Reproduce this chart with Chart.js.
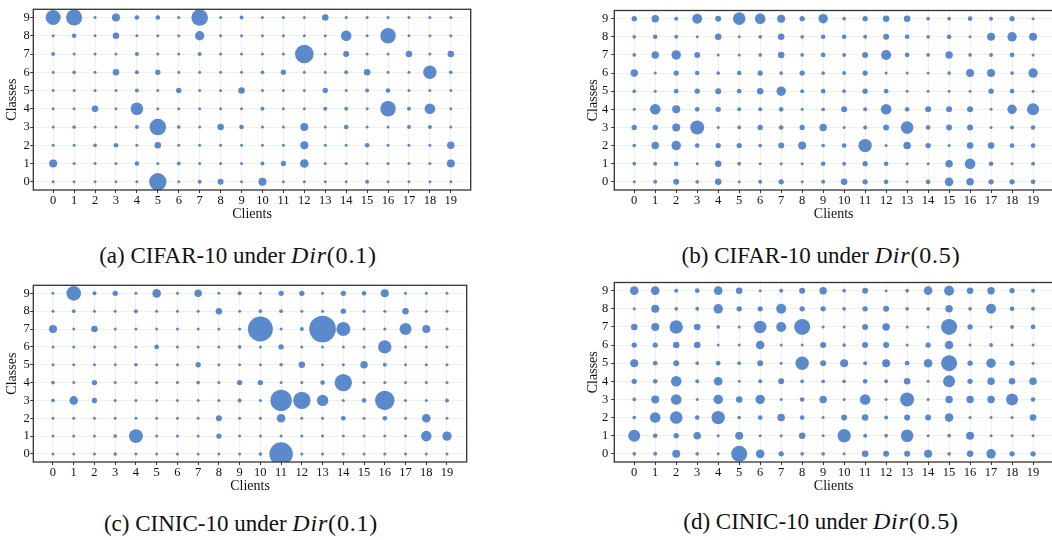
<!DOCTYPE html>
<html>
<head>
<meta charset="utf-8">
<script src="https://cdn.jsdelivr.net/npm/chart.js@4.4.0/dist/chart.umd.min.js"></script>
<style>
  html, body { margin: 0; padding: 0; background: #fff; }
  body { width: 1052px; height: 540px; position: relative; overflow: hidden; font-family: "Liberation Serif", "Times New Roman", serif; }
  .panel { position: absolute; width: 480px; height: 223px; }
  .caption { position: absolute; width: 480px; text-align: center; font-size: 23px; line-height: 26px; color: #111; white-space: nowrap; }
  .caption .m { font-size: 24px; letter-spacing: 0.8px; }
</style>
</head>
<body>
<div class="panel" style="left:0;top:0"><canvas id="chart-a"></canvas></div>
<div class="panel" style="left:581px;top:0"><canvas id="chart-b"></canvas></div>
<div class="panel" style="left:0;top:272px"><canvas id="chart-c"></canvas></div>
<div class="panel" style="left:581px;top:272px"><canvas id="chart-d"></canvas></div>

<div class="caption" style="left:-2px;top:242px">(a) CIFAR-10 under <span class="m"><i>Dir</i>(0.1)</span></div>
<div class="caption" style="left:581px;top:242px">(b) CIFAR-10 under <span class="m"><i>Dir</i>(0.5)</span></div>
<div class="caption" style="left:1px;top:510px">(c) CINIC-10 under <span class="m"><i>Dir</i>(0.1)</span></div>
<div class="caption" style="left:581px;top:508px">(d) CINIC-10 under <span class="m"><i>Dir</i>(0.5)</span></div>

<script>
const clients = [0, 1, 2, 3, 4, 5, 6, 7, 8, 9, 10, 11, 12, 13, 14, 15, 16, 17, 18, 19];
const classes = [0, 1, 2, 3, 4, 5, 6, 7, 8, 9];

// samples per client, one row per class (row 0 = class 0 ... row 9 = class 9)
const cifarDir01 = [
  [0, 0, 0, 0, 0, 2300, 0, 10, 100, 0, 280, 0, 0, 0, 0, 10, 0, 0, 0, 0],
  [280, 0, 0, 0, 30, 0, 10, 0, 0, 0, 10, 60, 350, 0, 0, 0, 0, 0, 0, 280],
  [0, 0, 5, 30, 0, 140, 0, 0, 0, 0, 0, 0, 280, 0, 0, 30, 0, 0, 0, 220],
  [0, 5, 0, 0, 10, 2060, 5, 0, 140, 30, 0, 0, 280, 0, 30, 0, 0, 10, 10, 0],
  [0, 0, 140, 0, 1020, 0, 0, 0, 0, 0, 10, 0, 0, 10, 10, 0, 1710, 10, 640, 0],
  [0, 0, 0, 0, 10, 0, 60, 0, 0, 140, 0, 0, 0, 60, 0, 10, 30, 0, 0, 0],
  [0, 5, 0, 140, 10, 60, 0, 0, 0, 0, 5, 60, 0, 0, 10, 140, 0, 0, 1200, 5],
  [10, 0, 0, 0, 10, 0, 0, 10, 0, 0, 0, 0, 2700, 0, 100, 0, 0, 140, 0, 140],
  [0, 30, 0, 140, 0, 0, 0, 460, 0, 0, 0, 0, 0, 0, 640, 0, 1710, 0, 0, 0],
  [1600, 1880, 0, 280, 30, 30, 0, 2060, 0, 10, 0, 0, 0, 140, 0, 0, 0, 0, 0, 0]
];

const cifarDir05 = [
  [0, 10, 100, 5, 140, 0, 10, 60, 0, 10, 140, 60, 30, 0, 30, 350, 220, 60, 60, 30],
  [5, 10, 30, 0, 140, 5, 0, 0, 0, 30, 10, 60, 30, 0, 0, 220, 640, 30, 0, 10],
  [5, 220, 460, 30, 60, 60, 5, 100, 280, 5, 30, 1200, 0, 220, 60, 0, 140, 140, 30, 30],
  [60, 60, 280, 1340, 0, 5, 60, 30, 60, 220, 0, 10, 100, 1020, 30, 100, 100, 0, 10, 30],
  [0, 640, 280, 30, 60, 10, 10, 30, 0, 5, 100, 10, 640, 30, 100, 100, 100, 0, 460, 900],
  [5, 0, 30, 60, 100, 30, 140, 460, 10, 30, 5, 60, 30, 0, 0, 0, 0, 60, 30, 0],
  [220, 0, 60, 30, 5, 30, 60, 5, 60, 5, 10, 60, 0, 0, 0, 5, 280, 280, 5, 460],
  [5, 220, 460, 100, 0, 0, 5, 140, 5, 30, 10, 100, 540, 30, 5, 220, 5, 10, 30, 0],
  [5, 30, 10, 0, 140, 0, 5, 140, 5, 30, 30, 10, 100, 30, 5, 30, 0, 280, 460, 280],
  [60, 220, 10, 540, 100, 1020, 640, 280, 60, 460, 5, 60, 140, 140, 5, 5, 30, 10, 60, 0]
];

const cinicDir01 = [
  [0, 0, 0, 5, 0, 0, 0, 0, 0, 0, 5, 4620, 0, 0, 0, 0, 0, 0, 0, 0],
  [0, 0, 0, 5, 1340, 0, 0, 0, 60, 0, 0, 0, 0, 0, 0, 0, 0, 0, 640, 460],
  [0, 0, 0, 0, 0, 0, 0, 0, 100, 0, 0, 350, 0, 0, 30, 0, 30, 0, 350, 0],
  [5, 350, 60, 0, 0, 0, 0, 0, 0, 10, 0, 3760, 2300, 780, 0, 30, 2990, 0, 0, 10],
  [5, 0, 60, 0, 0, 0, 0, 5, 0, 60, 60, 0, 0, 30, 2300, 0, 0, 0, 0, 0],
  [0, 0, 0, 0, 5, 0, 0, 60, 0, 0, 0, 5, 140, 0, 0, 220, 10, 0, 0, 0],
  [0, 0, 0, 0, 0, 30, 0, 0, 0, 5, 0, 60, 0, 0, 0, 0, 1200, 0, 0, 0],
  [280, 0, 140, 0, 0, 0, 0, 0, 0, 0, 5380, 0, 10, 6190, 1340, 0, 0, 900, 280, 0],
  [0, 5, 0, 0, 10, 0, 0, 0, 140, 0, 5, 5, 0, 0, 60, 0, 0, 140, 0, 0],
  [0, 1500, 10, 60, 0, 350, 0, 220, 0, 10, 0, 60, 60, 0, 60, 30, 280, 0, 0, 0]
];

const cinicDir05 = [
  [5, 10, 280, 5, 0, 1880, 350, 60, 5, 5, 0, 140, 100, 100, 280, 5, 140, 460, 60, 60],
  [900, 30, 60, 220, 0, 280, 0, 0, 140, 0, 1200, 10, 5, 1020, 0, 5, 280, 0, 0, 0],
  [5, 640, 1020, 30, 1200, 5, 30, 220, 30, 0, 100, 140, 10, 100, 100, 350, 0, 0, 0, 140],
  [5, 280, 640, 0, 460, 140, 460, 0, 30, 220, 0, 640, 0, 1340, 0, 220, 220, 220, 900, 30],
  [60, 30, 640, 10, 350, 0, 10, 100, 5, 5, 5, 30, 10, 140, 0, 900, 60, 220, 140, 220],
  [280, 30, 100, 5, 30, 5, 100, 0, 1200, 100, 280, 10, 280, 30, 350, 1880, 60, 460, 60, 0],
  [60, 60, 140, 140, 0, 0, 350, 0, 0, 100, 5, 100, 100, 0, 60, 350, 0, 10, 0, 0],
  [140, 280, 1200, 140, 5, 0, 1020, 540, 1880, 0, 0, 100, 220, 0, 0, 1880, 60, 0, 10, 30],
  [0, 280, 5, 10, 460, 60, 60, 540, 60, 60, 5, 60, 100, 5, 5, 220, 5, 540, 30, 10],
  [350, 350, 10, 30, 350, 140, 0, 10, 100, 220, 5, 100, 0, 5, 350, 540, 140, 220, 60, 10]
];

const serif = '"Liberation Serif", "Times New Roman", serif';
const tickFont = { family: serif, size: 12.5 };
const titleFont = { family: serif, size: 14 };

// bubble area grows with sample count, empty cells still get a dot
const bubbleR = v => 1.5 + 0.15 * Math.sqrt(v);

const toPoints = rows => rows.flatMap((row, c) =>
  row.map((v, i) => ({ x: clients[i], y: classes[c], v: v }))
);

// box around the plot area
const frame = {
  id: 'frame',
  afterDraw: chart => {
    const { ctx, chartArea: a } = chart;
    ctx.save();
    ctx.strokeStyle = '#333';
    ctx.lineWidth = 1.3;
    ctx.strokeRect(a.left, a.top, a.right - a.left, a.bottom - a.top);
    ctx.restore();
  }
};

const makeChart = (id, rows, tickPad) => new Chart(document.getElementById(id), {
  type: 'bubble',
  data: {
    datasets: [{
      data: toPoints(rows),
      backgroundColor: 'rgba(72,124,198,0.9)',
      borderWidth: 0,
      radius: c => bubbleR(c.raw.v)
    }]
  },
  options: {
    responsive: true,
    maintainAspectRatio: false,
    animation: false,
    events: [],
    layout: { padding: { top: 5, right: 8, left: 0, bottom: 0 } },
    plugins: { legend: { display: false }, tooltip: { enabled: false } },
    scales: {
      x: {
        type: 'linear', min: -0.95, max: 19.95, z: 1,
        afterBuildTicks: s => { s.ticks = clients.map(v => ({ value: v })); },
        afterFit: s => { s.height = 33; },
        grid: { color: 'rgba(205,205,205,0.3)', tickColor: '#333', tickLength: 3 },
        border: { display: false },
        ticks: { padding: 0, color: '#111', font: tickFont, maxRotation: 0, autoSkip: false },
        title: { display: true, text: 'Clients', color: '#111', font: titleFont, padding: { top: 0, bottom: 0 } }
      },
      y: {
        type: 'linear', min: -0.45, max: 9.45, z: 1,
        afterBuildTicks: s => { s.ticks = classes.map(v => ({ value: v })); },
        afterFit: s => { s.width = 33.3; },
        grid: { color: 'rgba(205,205,205,0.3)', tickColor: '#333', tickLength: 3 },
        border: { display: false },
        ticks: { padding: tickPad, color: '#111', font: tickFont, autoSkip: false },
        title: { display: true, text: 'Classes', color: '#111', font: titleFont, padding: { top: 4, bottom: 0 } }
      }
    }
  },
  plugins: [frame]
});

makeChart('chart-a', cifarDir01, 0.5);
makeChart('chart-b', cifarDir05, 3);
makeChart('chart-c', cinicDir01, 0.5);
makeChart('chart-d', cinicDir05, 3);
</script>
</body>
</html>
